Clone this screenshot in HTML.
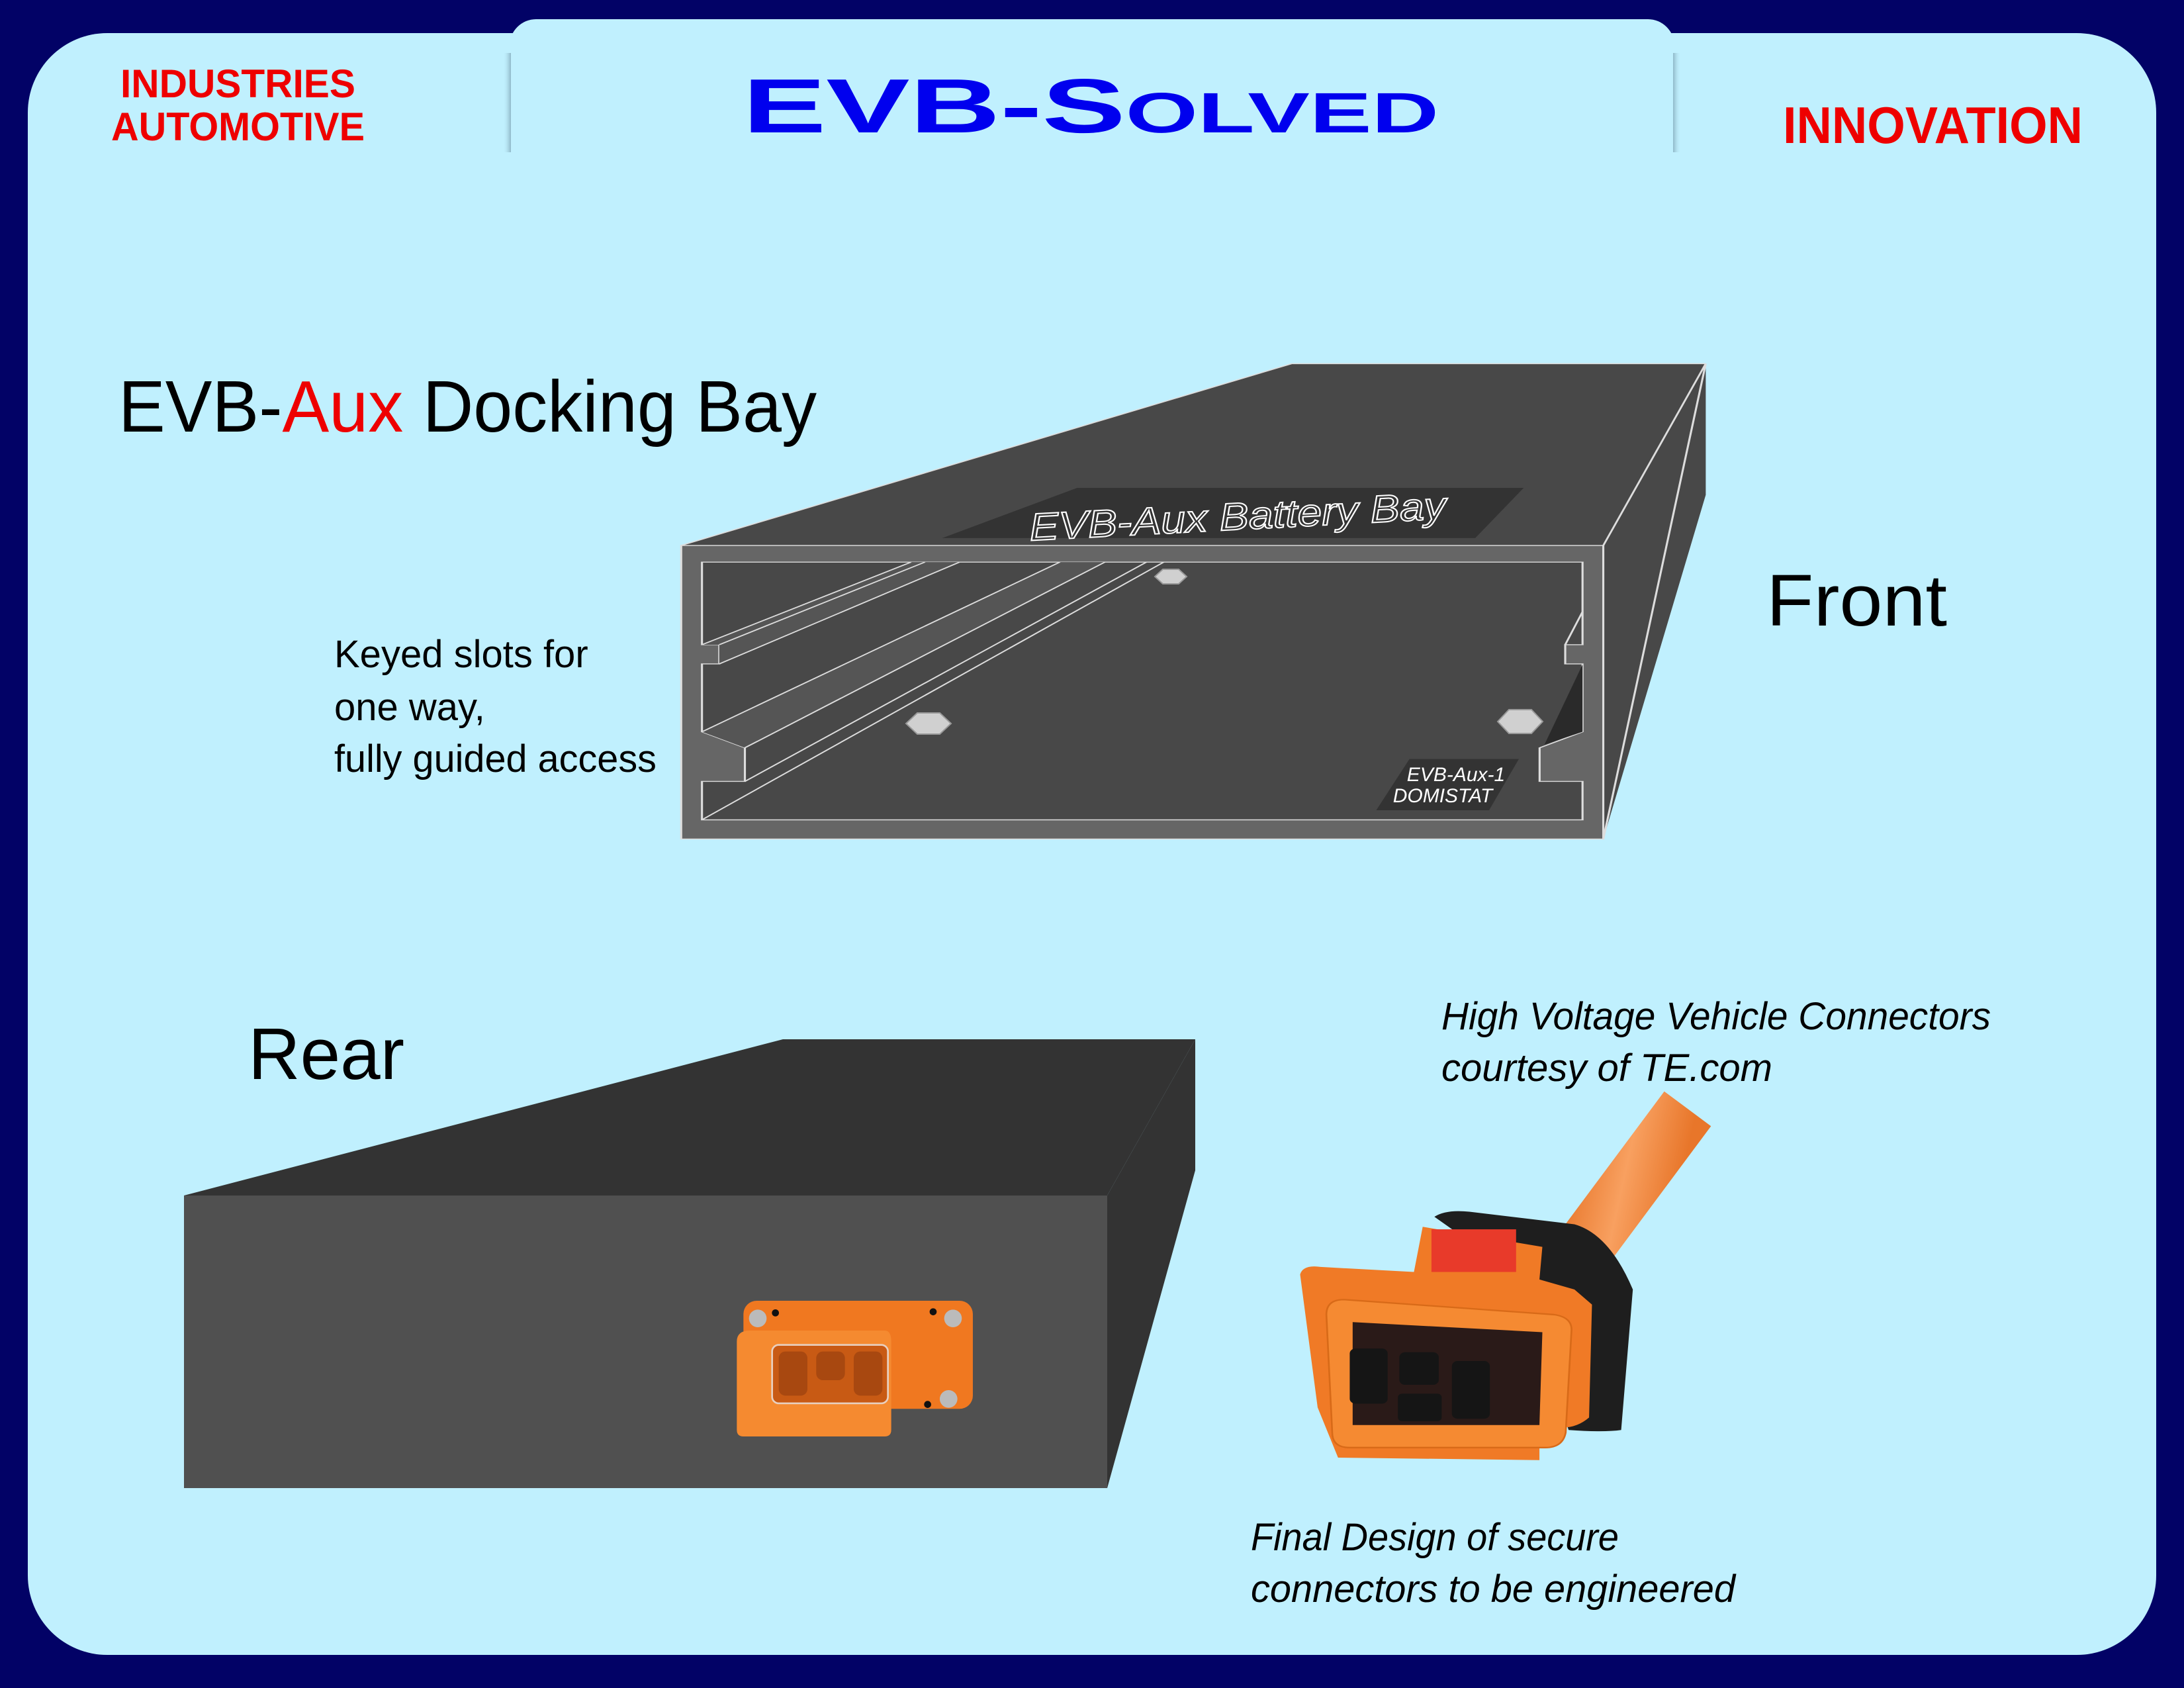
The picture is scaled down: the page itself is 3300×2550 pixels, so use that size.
<!DOCTYPE html>
<html><head><meta charset="utf-8"><style>
html,body{margin:0;padding:0;background:#020266;}
svg{display:block}
text{font-family:"Liberation Sans",sans-serif}
</style></head><body>
<svg width="3300" height="2550" viewBox="0 0 3300 2550" xmlns="http://www.w3.org/2000/svg">
<defs>
<linearGradient id="shl" x1="0" x2="1"><stop offset="0" stop-color="#c0f0fe" stop-opacity="0"/><stop offset="1" stop-color="#8fb8c8"/></linearGradient>
<linearGradient id="shr" x1="0" x2="1"><stop offset="0" stop-color="#8fb8c8"/><stop offset="1" stop-color="#c0f0fe" stop-opacity="0"/></linearGradient>
<linearGradient id="cab" x1="0" x2="1" y1="0" y2="0.3"><stop offset="0" stop-color="#e8762a"/><stop offset="0.5" stop-color="#f8a060"/><stop offset="1" stop-color="#e8762a"/></linearGradient>
</defs>
<rect width="3300" height="2550" fill="#020266"/>
<rect x="42" y="50" width="3216" height="2450" rx="120" fill="#c0f0fe"/>
<rect x="770" y="29" width="1760" height="260" rx="40" fill="#c0f0fe"/>
<rect x="760" y="80" width="12" height="150" fill="url(#shl)"/>
<rect x="2528" y="80" width="12" height="150" fill="url(#shr)"/>

<text x="1122" y="200" textLength="1052" lengthAdjust="spacingAndGlyphs" font-weight="bold" fill="#0000ee"><tspan font-size="116">EVB-S</tspan><tspan font-size="86">OLVED</tspan></text>
<text x="182" y="147" font-size="60" font-weight="bold" fill="#ee0000" textLength="355" lengthAdjust="spacingAndGlyphs">INDUSTRIES</text>
<text x="168" y="212" font-size="60" font-weight="bold" fill="#ee0000" textLength="383" lengthAdjust="spacingAndGlyphs">AUTOMOTIVE</text>
<text x="2694" y="216" font-size="78" font-weight="bold" fill="#ee0000" textLength="453" lengthAdjust="spacingAndGlyphs">INNOVATION</text>

<text x="179" y="652" font-size="110" fill="#000" textLength="1055" lengthAdjust="spacingAndGlyphs">EVB-<tspan fill="#ee0000">Aux</tspan> Docking Bay</text>
<text x="505" y="1008" font-size="58" fill="#000">Keyed slots for</text>
<text x="505" y="1088" font-size="58" fill="#000">one way,</text>
<text x="505" y="1166" font-size="58" fill="#000" textLength="487" lengthAdjust="spacingAndGlyphs">fully guided access</text>
<text x="2669" y="945" font-size="110" fill="#000" textLength="273" lengthAdjust="spacingAndGlyphs">Front</text>
<text x="375" y="1630" font-size="110" fill="#000" textLength="236" lengthAdjust="spacingAndGlyphs">Rear</text>
<text x="2178" y="1555" font-size="58" font-style="italic" fill="#000" textLength="830" lengthAdjust="spacingAndGlyphs">High Voltage Vehicle Connectors</text>
<text x="2178" y="1633" font-size="58" font-style="italic" fill="#000" textLength="500" lengthAdjust="spacingAndGlyphs">courtesy of TE.com</text>
<text x="1890" y="2342" font-size="58" font-style="italic" fill="#000" textLength="556" lengthAdjust="spacingAndGlyphs">Final Design of secure</text>
<text x="1890" y="2420" font-size="58" font-style="italic" fill="#000" textLength="732" lengthAdjust="spacingAndGlyphs">connectors to be engineered</text>

<!-- Front box -->
<g transform="translate(1000,530) scale(1.046,0.4836)">
<polygon points="28,608 910,40 1508,40 1360,608" fill="#484848"/>
<polygon points="1360,608 1508,40 1508,450 1360,1525" fill="#484848"/>
<polyline points="28,608 910,40 1508,40" fill="none" stroke="#ddd" stroke-width="3"/>
<line x1="1360" y1="608" x2="1508" y2="40" stroke="#ddd" stroke-width="3"/>
<line x1="1508" y1="40" x2="1360" y2="1525" stroke="#ddd" stroke-width="3"/>
<rect x="28" y="608" width="1332" height="917" fill="#666" stroke="#ddd" stroke-width="3"/>
<polygon points="58,660 58,918 83,918 83,978 58,978 58,1190 120,1240 120,1345 58,1345 58,1465 1330,1465 1330,1345 1268,1345 1268,1240 1330,1190 1330,978 1305,978 1305,918 1330,918 1330,660" fill="#484848" stroke="#ddd" stroke-width="3"/>
<polygon points="58,1190 575,660 640,660 120,1240" fill="#555"/>
<polygon points="58,918 360,660 430,660 83,978 83,918" fill="#555"/>
<g stroke="#ddd" stroke-width="3" fill="none">
<line x1="58" y1="918" x2="360" y2="660"/>
<line x1="83" y1="918" x2="380" y2="660"/>
<line x1="83" y1="978" x2="430" y2="660"/>
<line x1="58" y1="1190" x2="575" y2="660"/>
<line x1="120" y1="1240" x2="640" y2="660"/>
<line x1="120" y1="1345" x2="700" y2="660"/>
<line x1="58" y1="1465" x2="725" y2="660"/>
<line x1="1305" y1="918" x2="1330" y2="815"/>
</g>
<polygon points="1275,1230 1330,980 1330,1190" fill="#2a2a2a"/>
<polygon points="600,428 1245,428 1175,585 405,585" fill="#333"/>
<polygon points="1080,1275 1238,1275 1195,1435 1032,1435" fill="#333"/>
</g>
<polygon points="1745,871 1757,860 1781,860 1793,871 1781,882 1757,882" fill="#d0d0d0" stroke="#999" stroke-width="2"/>
<polygon points="1369,1093 1386,1077 1420,1077 1437,1093 1420,1109 1386,1109" fill="#d0d0d0" stroke="#999" stroke-width="2"/>
<polygon points="2263,1090 2280,1072 2314,1072 2331,1090 2314,1108 2280,1108" fill="#d0d0d0" stroke="#999" stroke-width="2"/>
<text x="1870" y="800" font-size="58" font-style="italic" fill="#333" stroke="#fff" stroke-width="2" text-anchor="middle" transform="rotate(-3 1870 780)" textLength="630" lengthAdjust="spacingAndGlyphs">EVB-Aux  Battery  Bay</text>
<text x="2200" y="1180" font-size="30" font-style="italic" fill="#fff" text-anchor="middle">EVB-Aux-1</text>
<text x="2180" y="1212" font-size="30" font-style="italic" fill="#fff" text-anchor="middle">DOMISTAT</text>

<!-- Rear box -->
<polygon points="278,1806 1183,1570 1806,1570 1673,1806" fill="#333"/>
<polygon points="1673,1806 1806,1570 1806,1768 1673,2248" fill="#333"/>
<rect x="278" y="1806" width="1395" height="442" fill="#505050"/>
<!-- rear connector -->
<g transform="translate(1080,1900) scale(0.3333)">
<rect x="130" y="195" width="1040" height="490" rx="60" fill="#f07820"/>
<path d="M100,380 Q100,330 160,330 L770,330 Q800,330 800,380 L800,780 Q800,810 770,810 L130,810 Q100,810 100,780 Z" fill="#f58a30"/>
<rect x="260" y="395" width="525" height="265" rx="30" fill="#c85a14" stroke="#e8d0c0" stroke-width="8"/>
<rect x="290" y="425" width="130" height="200" rx="30" fill="#a84810"/>
<rect x="460" y="425" width="130" height="130" rx="30" fill="#a84810"/>
<rect x="630" y="425" width="130" height="200" rx="30" fill="#a84810"/>
<circle cx="195" cy="275" r="40" fill="#bbb"/><circle cx="1080" cy="275" r="40" fill="#bbb"/><circle cx="1060" cy="640" r="40" fill="#bbb"/>
<circle cx="275" cy="250" r="16" fill="#111"/><circle cx="990" cy="245" r="16" fill="#111"/><circle cx="965" cy="665" r="16" fill="#111"/>
</g>

<!-- HV connector -->
<path d="M2550,1675 L2390,1890" stroke="url(#cab)" stroke-width="88" fill="none"/>
<g transform="translate(1938,1660) scale(0.441,0.379)">
<path d="M520,470 Q560,440 640,450 L1000,500 Q1120,540 1200,760 L1160,1320 Q1100,1330 980,1320 L800,700 Z" fill="#1e1e1e"/>
<path d="M60,700 Q70,660 130,670 L450,690 L480,510 L890,590 L880,720 L1000,760 L1060,820 L1050,1270 Q1010,1310 960,1310 L880,1330 L880,1440 L190,1430 L120,1230 Z" fill="#f07a26"/>
<rect x="510" y="520" width="290" height="170" fill="#e83a2a"/>
<path d="M150,860 Q150,800 210,800 L930,860 Q990,870 990,920 L970,1330 Q960,1390 900,1390 L230,1390 Q170,1390 170,1330 Z" fill="#f58a32" stroke="#d86a18" stroke-width="6"/>
<path d="M240,890 L890,930 L880,1300 L240,1300 Z" fill="#2a1a18"/>
<rect x="230" y="995" width="130" height="220" rx="20" fill="#151515"/>
<rect x="400" y="1010" width="135" height="130" rx="20" fill="#151515"/>
<rect x="580" y="1045" width="130" height="230" rx="20" fill="#151515"/>
<rect x="395" y="1175" width="150" height="110" rx="15" fill="#151515"/>
</g>
</svg>
</body></html>
